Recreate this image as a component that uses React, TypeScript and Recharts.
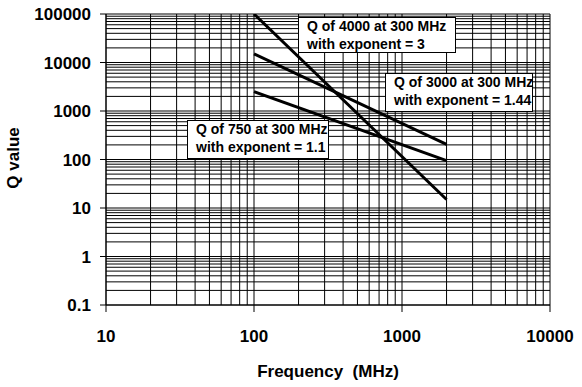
import React from "react";
import { LineChart, Line, XAxis, YAxis, CartesianGrid } from "recharts";

const FONT = "'Liberation Sans', Arial, sans-serif";

// Series: endpoints (straight lines on log-log axes)
const exp3Series = [
  { f: 100, q: 100000 },
  { f: 2000, q: 15 },
];
const exp144Series = [
  { f: 100, q: 15000 },
  { f: 2000, q: 205 },
];
const exp11Series = [
  { f: 100, q: 2500 },
  { f: 2000, q: 95 },
];

const xTicks = [10, 100, 1000, 10000];
const yTicks = [0.1, 1, 10, 100, 1000, 10000, 100000];
const minorSteps = [1, 2, 3, 4, 5, 6, 7, 8, 9];

const xGrid: number[] = [];
[10, 100, 1000].forEach((d) => minorSteps.forEach((m) => xGrid.push(m * d)));
xGrid.push(10000);
const yGrid: number[] = [];
[0.1, 1, 10, 100, 1000, 10000].forEach((d) =>
  minorSteps.forEach((m) => yGrid.push(+(m * d).toPrecision(6)))
);
yGrid.push(100000);

const annotations = [
  { lines: ["Q of 4000 at 300 MHz", "with exponent = 3"], x: 298, y: 17, w: 157, h: 35 },
  { lines: ["Q of 3000 at 300 MHz", "with exponent = 1.44"], x: 385, y: 73, w: 147, h: 38 },
  { lines: ["Q of 750 at 300 MHz", "with exponent = 1.1"], x: 187, y: 120, w: 141, h: 38 },
];

const YTick = (props: any) => {
  const { x, y, payload } = props;
  return (
    <text x={x} y={y + 6} textAnchor="end" fontFamily={FONT} fontWeight="bold" fontSize={17} fill="#000">
      {String(payload.value)}
    </text>
  );
};

const XTick = (props: any) => {
  const { x, y, payload } = props;
  return (
    <text x={x} y={y + 28} textAnchor="middle" fontFamily={FONT} fontWeight="bold" fontSize={17} fill="#000">
      {String(payload.value)}
    </text>
  );
};

const Annotations = () => (
  <g>
    {annotations.map((a, i) => (
      <g key={i}>
        <rect x={a.x + 0.5} y={a.y + 0.5} width={a.w} height={a.h} fill="#fff" stroke="#000" strokeWidth={1} />
        {a.lines.map((t, j) => (
          <text
            key={j}
            x={a.x + 9}
            y={a.y + 14 + j * 17.5}
            fontFamily={FONT}
            fontWeight="bold"
            fontSize={14}
            fill="#000"
          >
            {t}
          </text>
        ))}
      </g>
    ))}
  </g>
);

export default function App() {
  return (
    <div style={{ position: "absolute", left: 0, top: 0, width: 582, height: 387, background: "#fff" }}>
      <LineChart width={582} height={387} margin={{ top: 14, right: 32, bottom: 0, left: 0 }}>
        <CartesianGrid
          stroke="#000"
          strokeWidth={1}
          horizontalValues={yGrid}
          verticalValues={xGrid}
          fill="#fff"
        />
        <XAxis
          type="number"
          dataKey="f"
          scale="log"
          domain={[10, 10000]}
          ticks={xTicks}
          allowDataOverflow
          height={82}
          tickSize={7}
          tickMargin={2}
          tickLine={{ stroke: "#000" }}
          axisLine={{ stroke: "#000" }}
          tick={<XTick />}
          interval={0}
        />
        <YAxis
          type="number"
          scale="log"
          domain={[0.1, 100000]}
          ticks={yTicks}
          allowDataOverflow
          width={106}
          tickSize={6}
          tickMargin={9}
          tickLine={{ stroke: "#000" }}
          axisLine={{ stroke: "#000" }}
          tick={<YTick />}
          interval={0}
        />
        <Line data={exp3Series} dataKey="q" stroke="#000" strokeWidth={3} dot={false} isAnimationActive={false} />
        <Line data={exp144Series} dataKey="q" stroke="#000" strokeWidth={3} dot={false} isAnimationActive={false} />
        <Line data={exp11Series} dataKey="q" stroke="#000" strokeWidth={3} dot={false} isAnimationActive={false} />
        <Annotations />
        <text
          x={19}
          y={158}
          transform="rotate(-90 19 158)"
          textAnchor="middle"
          fontFamily={FONT}
          fontWeight="bold"
          fontSize={17}
          fill="#000"
        >
          Q value
        </text>
        <text x={328} y={377} textAnchor="middle" fontFamily={FONT} fontWeight="bold" fontSize={17} fill="#000" xmlSpace="preserve">
          Frequency  (MHz)
        </text>
      </LineChart>
    </div>
  );
}
